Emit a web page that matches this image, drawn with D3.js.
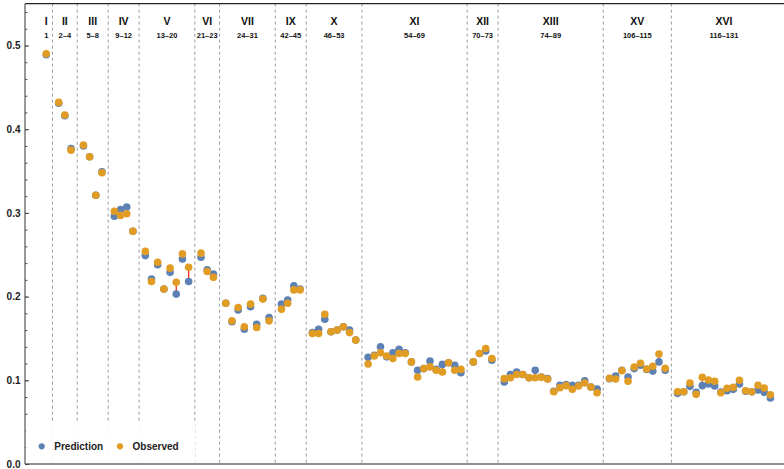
<!DOCTYPE html>
<html>
<head>
<meta charset="utf-8">
<script src="https://cdn.jsdelivr.net/npm/d3@7/dist/d3.min.js"></script>
<style>
  html, body { margin: 0; padding: 0; background: #fff; }
  svg { display: block; font-family: "Liberation Sans", Arial, sans-serif; }
</style>
</head>
<body>
<svg id="chart" width="784" height="469"></svg>
<script>
// Group headers: roman numeral, index range, number of cases in the group
const groupNames = ["I", "II", "III", "IV", "V", "VI", "VII", "IX", "X", "XI", "XII", "XIII", "XV", "XVI"];
const groupRanges = ["1", "2–4", "5–8", "9–12", "13–20", "21–23", "24–31", "42–45", "46–53", "54–69", "70–73", "74–89", "106–115", "116–131"];
const groupSizes = [1, 3, 4, 4, 8, 3, 8, 4, 8, 16, 4, 16, 10, 16];

// Predicted values, in group order
const prediction = [
  0.489,
  0.431, 0.416, 0.377,
  0.380, 0.367, 0.321, 0.349,
  0.296, 0.304, 0.307, 0.278,
  0.249, 0.221, 0.238, 0.209, 0.229, 0.203, 0.245, 0.218,
  0.247, 0.232, 0.227,
  0.192, 0.170, 0.184, 0.161, 0.188, 0.167, 0.198, 0.175,
  0.191, 0.196, 0.213, 0.209,
  0.157, 0.161, 0.173, 0.158, 0.160, 0.164, 0.160, 0.148,
  0.1275, 0.130, 0.140, 0.128, 0.133, 0.137, 0.133, 0.122, 0.112, 0.114, 0.123, 0.113, 0.119, 0.121, 0.118, 0.109,
  0.122, 0.132, 0.135, 0.124,
  0.098, 0.107, 0.110, 0.107, 0.103, 0.112, 0.104, 0.102, 0.087, 0.094, 0.095, 0.094, 0.094, 0.0995, 0.092, 0.0896,
  0.102, 0.105, 0.112, 0.104, 0.114, 0.118, 0.113, 0.111, 0.122, 0.112,
  0.0844, 0.0864, 0.0928, 0.0856, 0.0936, 0.0956, 0.0932, 0.086, 0.0876, 0.0892, 0.0956, 0.087, 0.0864, 0.0884, 0.0856, 0.0789
];

// Observed values, in group order
const observed = [
  0.490,
  0.432, 0.417, 0.375,
  0.381, 0.367, 0.321, 0.348,
  0.302, 0.297, 0.299, 0.278,
  0.254, 0.218, 0.241, 0.209, 0.234, 0.217, 0.251, 0.235,
  0.252, 0.230, 0.223,
  0.192, 0.171, 0.187, 0.164, 0.191, 0.163, 0.197, 0.171,
  0.185, 0.192, 0.208, 0.208,
  0.156, 0.156, 0.179, 0.158, 0.160, 0.164, 0.157, 0.148,
  0.1195, 0.129, 0.133, 0.129, 0.126, 0.132, 0.132, 0.122, 0.104, 0.114, 0.116, 0.112, 0.110, 0.121, 0.112, 0.113,
  0.122, 0.132, 0.138, 0.126,
  0.102, 0.103, 0.107, 0.107, 0.103, 0.103, 0.1035, 0.1016, 0.0864, 0.0912, 0.0936, 0.0892, 0.0932, 0.0968, 0.092, 0.0852,
  0.1024, 0.1016, 0.1115, 0.0988, 0.1159, 0.1203, 0.1135, 0.1167, 0.1314, 0.1143,
  0.0864, 0.0864, 0.0968, 0.0832, 0.1035, 0.1004, 0.0988, 0.0852, 0.0904, 0.0916, 0.1, 0.0876, 0.0864, 0.094, 0.0908, 0.0828
];

const yTicks = [0, 0.1, 0.2, 0.3, 0.4, 0.5];

const colPred = "#5E81B5";
const colObs = "#E19C24";

// Layout: each group takes its own slots, with one empty slot (holding a divider) between groups
const slots = [];      // slot position of every point
const dividers = [];   // slot position of each divider
const centers = [];    // centre slot of each group
let s = 1;
groupSizes.forEach((n, gi) => {
  if (gi > 0) { dividers.push(s); s += 1; }
  const start = s;
  for (let k = 0; k < n; k++) { slots.push(s); s += 1; }
  centers.push((start + s - 1) / 2);
});

const svg = d3.select("#chart");
const plotLeft = 25, plotRight = 784, plotTop = 3.65, plotBottom = 464;

const x = d3.scaleLinear().domain([-2.44, 120.2]).range([plotLeft, plotRight]);
const y = d3.scaleLinear().domain([0, 0.55]).range([plotBottom, plotTop]);

// Group dividers
svg.append("g").selectAll("line").data(dividers).join("line")
  .attr("x1", d => x(d)).attr("x2", d => x(d))
  .attr("y1", plotTop).attr("y2", plotBottom)
  .attr("stroke", "#9a9a9a").attr("stroke-width", 1)
  .attr("stroke-dasharray", "3,3");

// Group headers
const hdr = svg.append("g").attr("text-anchor", "middle").attr("fill", "#111").attr("font-weight", "bold");
hdr.selectAll("text.name").data(groupNames).join("text").attr("class", "name")
  .attr("x", (d, i) => x(centers[i])).attr("y", 24.5)
  .attr("font-size", 10.5).text(d => d);
hdr.selectAll("text.range").data(groupRanges).join("text").attr("class", "range")
  .attr("x", (d, i) => x(centers[i])).attr("y", 38)
  .attr("font-size", 7.5).text(d => d);

// Red segments joining prediction and observation
svg.append("g").selectAll("line").data(prediction).join("line")
  .attr("x1", (d, i) => x(slots[i])).attr("x2", (d, i) => x(slots[i]))
  .attr("y1", d => y(d)).attr("y2", (d, i) => y(observed[i]))
  .attr("stroke", "#ff2a1a").attr("stroke-width", 1.3);

// Points
svg.append("g").selectAll("circle").data(prediction).join("circle")
  .attr("cx", (d, i) => x(slots[i])).attr("cy", d => y(d)).attr("r", 3.8)
  .attr("fill", colPred);
svg.append("g").selectAll("circle").data(observed).join("circle")
  .attr("cx", (d, i) => x(slots[i])).attr("cy", d => y(d)).attr("r", 3.8)
  .attr("fill", colObs);

// Frame: top and bottom edges
svg.append("line").attr("x1", plotLeft).attr("x2", plotRight).attr("y1", plotTop).attr("y2", plotTop)
  .attr("stroke", "#222").attr("stroke-width", 1.2);
svg.append("line").attr("x1", plotLeft).attr("x2", plotRight).attr("y1", plotBottom).attr("y2", plotBottom)
  .attr("stroke", "#222").attr("stroke-width", 1.2);

// Y axis with inward ticks, minor every 0.02
const yMinor = svg.append("g").attr("transform", `translate(${plotLeft},0)`);
yMinor.call(d3.axisRight(y).tickValues(d3.range(0, 0.55, 0.02)).tickSize(2.5).tickFormat(""))
  .call(g => g.selectAll("line").attr("stroke", "#555"))
  .call(g => g.select(".domain").remove());
const yMajor = svg.append("g").attr("transform", `translate(${plotLeft},0)`);
yMajor.call(d3.axisRight(y).tickValues(yTicks).tickSize(4).tickFormat(""))
  .call(g => g.selectAll("line").attr("stroke", "#444"))
  .call(g => g.select(".domain").remove());
svg.append("line").attr("x1", plotLeft).attr("x2", plotLeft).attr("y1", plotTop).attr("y2", plotBottom)
  .attr("stroke", "#555").attr("stroke-width", 1.2);
svg.append("g").selectAll("text").data(yTicks).join("text")
  .attr("x", 20.5).attr("y", d => y(d) + 3.6)
  .attr("text-anchor", "end").attr("font-size", 10).attr("font-weight", "bold").attr("fill", "#222")
  .text(d => d3.format(".1f")(d));

// Legend
const lg = svg.append("g");
lg.append("rect").attr("x", plotLeft + 1).attr("y", 422).attr("width", 169.3).attr("height", plotBottom - 422 - 1)
  .attr("fill", "#fff").attr("fill-opacity", 0.92);
const legendItems = [
  { label: "Prediction", color: colPred, x: 41.7 },
  { label: "Observed", color: colObs, x: 120 }
];
legendItems.forEach(it => {
  lg.append("circle").attr("cx", it.x).attr("cy", 446.3).attr("r", 3.1).attr("fill", it.color);
  lg.append("text").attr("x", it.x + 12.6).attr("y", 450)
    .attr("font-size", 10).attr("font-weight", "bold").attr("fill", "#222").text(it.label);
});
</script>
</body>
</html>
